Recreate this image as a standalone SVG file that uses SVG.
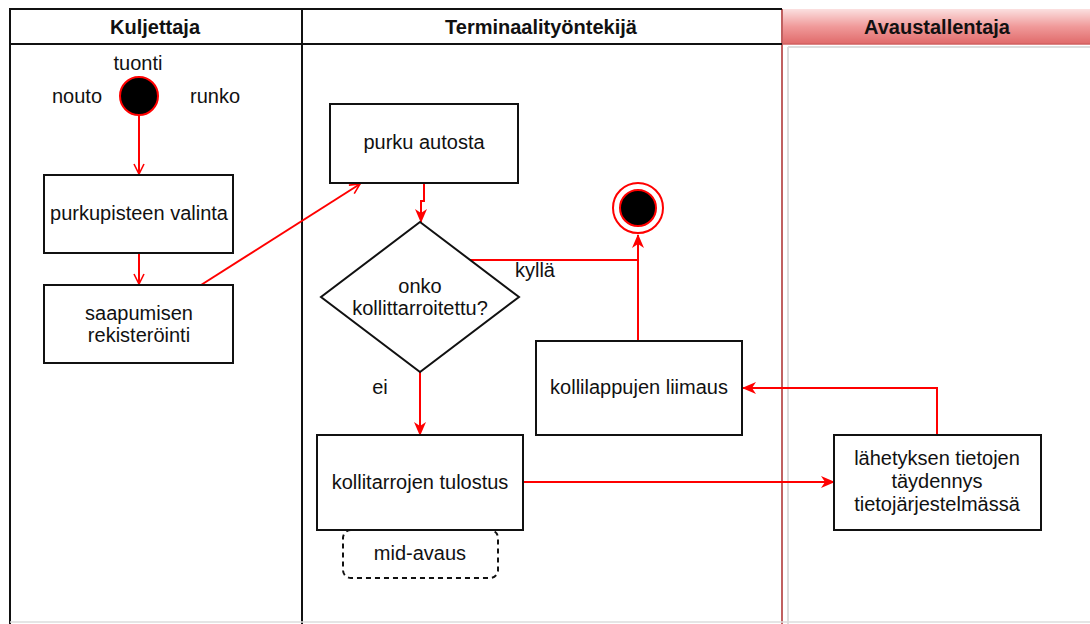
<svg xmlns="http://www.w3.org/2000/svg" width="1090" height="624" viewBox="0 0 1090 624">
<style>
text{font-family:"Liberation Sans",Arial,sans-serif;font-size:20px;fill:#111;text-anchor:middle;dominant-baseline:central}
.h{font-weight:bold;font-size:20px}
.box{fill:#fff;stroke:#111;stroke-width:2}
.lane{fill:none;stroke:#111;stroke-width:2}
.c{fill:none;stroke:#f00;stroke-width:2}
</style>
<defs>
<linearGradient id="hg" x1="0" y1="0" x2="0" y2="1">
<stop offset="0" stop-color="#fbe0e0"/>
<stop offset="0.5" stop-color="#f09a9a"/>
<stop offset="1" stop-color="#e06a6a"/>
</linearGradient>
<marker id="open" viewBox="0 0 12 12" refX="11" refY="6" markerWidth="12" markerHeight="12" markerUnits="userSpaceOnUse" orient="auto">
<path d="M1,1 L11,6 L1,11" fill="none" stroke="#f00" stroke-width="1.6"/>
</marker>
<marker id="fill" viewBox="0 0 14 12" refX="13" refY="6" markerWidth="14" markerHeight="12" markerUnits="userSpaceOnUse" orient="auto">
<path d="M0,0 L14,6 L0,12 L4,6 z" fill="#f00"/>
</marker>
</defs>
<rect width="1090" height="624" fill="#fff"/>
<g id="lanes">
<rect x="782" y="9" width="310" height="35" fill="url(#hg)"/>
<line x1="782" y1="44" x2="1090" y2="44" stroke="#d06060" stroke-width="1.5"/>
<line x1="788" y1="47" x2="1090" y2="47" stroke="#ddd" stroke-width="2"/>
<line x1="782" y1="9" x2="782" y2="624" stroke="#c06060" stroke-width="2"/>
<line x1="788" y1="47" x2="788" y2="624" stroke="#ddd" stroke-width="2"/>
<path class="lane" d="M782,9 H10 V624 M10,44 H782 M302,9 V624"/>
<line x1="10" y1="622" x2="1090" y2="622" stroke="#ddd" stroke-width="1.5"/>
<text class="h" x="155" y="27">Kuljettaja</text>
<text class="h" x="541" y="27">Terminaalityöntekijä</text>
<text class="h" x="937" y="27">Avaustallentaja</text>
</g>
<g id="connectors">
<path class="c" d="M139,115 V174" marker-end="url(#open)"/>
<path class="c" d="M139,253 V284" marker-end="url(#open)"/>
<path class="c" d="M201,285 L360,184" marker-end="url(#open)"/>
<path class="c" d="M424,183 V201 H421 V222" marker-end="url(#fill)"/>
<path class="c" d="M470,260 H638"/>
<path class="c" d="M638,341 V235" marker-end="url(#fill)"/>
<path class="c" d="M420,372 V435" marker-end="url(#fill)"/>
<path class="c" d="M523,482 H834" marker-end="url(#fill)"/>
<path class="c" d="M937,435 V388 H743" marker-end="url(#fill)"/>
<text x="535" y="270">kyllä</text>
<text x="380" y="387">ei</text>
</g>
<g id="start">
<circle cx="139" cy="96" r="19" fill="#000" stroke="#f00" stroke-width="2"/>
<text x="138" y="63">tuonti</text>
<text x="77" y="96">nouto</text>
<text x="215" y="96">runko</text>
</g>
<g id="purkupisteen">
<rect class="box" x="44" y="175" width="189" height="78"/>
<text x="139" y="213">purkupisteen valinta</text>
</g>
<g id="saapumisen">
<rect class="box" x="44" y="285" width="189" height="78"/>
<text x="139" y="313">saapumisen</text>
<text x="139" y="335">rekisteröinti</text>
</g>
<g id="purku">
<rect class="box" x="330" y="104" width="188" height="79"/>
<text x="424" y="142">purku autosta</text>
</g>
<g id="decision">
<path class="box" d="M420,222 L519,297 L420,372 L321,297 Z"/>
<text x="420" y="286">onko</text>
<text x="420" y="308">kollittarroitettu?</text>
</g>
<g id="end">
<circle cx="638" cy="208" r="25" fill="#fff" stroke="#f00" stroke-width="2"/>
<circle cx="638" cy="208" r="18" fill="#000" stroke="#f00" stroke-width="2"/>
</g>
<g id="liimaus">
<rect class="box" x="536" y="341" width="206" height="94"/>
<text x="639" y="387">kollilappujen liimaus</text>
</g>
<g id="tulostus">
<rect class="box" x="317" y="435" width="206" height="95"/>
<text x="420" y="482">kollitarrojen tulostus</text>
</g>
<g id="midavaus">
<rect x="343" y="530" width="155" height="48" rx="8" fill="none" stroke="#111" stroke-width="2" stroke-dasharray="5,4"/>
<text x="420" y="553">mid-avaus</text>
</g>
<g id="taydennys">
<rect class="box" x="834" y="435" width="207" height="95"/>
<text x="937" y="458">lähetyksen tietojen</text>
<text x="937" y="481">täydennys</text>
<text x="937" y="504">tietojärjestelmässä</text>
</g>
</svg>
